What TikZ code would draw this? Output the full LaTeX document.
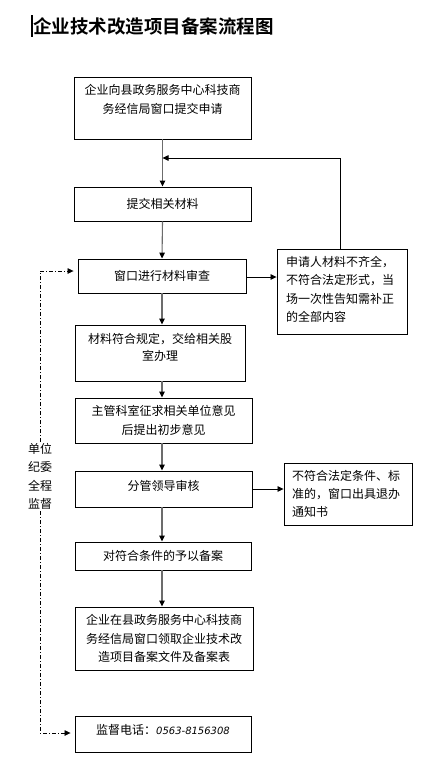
\documentclass[tikz,border=0pt]{standalone}
\usepackage{fontspec}
\newfontfamily\cjk{Noto Sans CJK SC}
\newfontfamily\cjkb{Noto Sans CJK SC Bold}
\setmainfont{Noto Sans CJK SC}
\usetikzlibrary{arrows.meta}
\begin{document}
\begin{tikzpicture}[x=1pt,y=-1pt,
  box/.style={draw=black,line width=0.9pt,inner sep=0pt,font=\cjk\fontsize{12}{18.5}\selectfont},
  flow/.style={draw=gray!85!black,line width=1.1pt,-{Triangle[length=6pt,width=5.5pt,color=black]}},
  side/.style={draw=black,line width=0.8pt,-{Triangle[length=6pt,width=5.5pt]}},
  super/.style={draw=black,line width=0.7pt,dash pattern=on 4pt off 2pt on 1pt off 2pt,-{Triangle[length=6pt,width=5.5pt]},shorten >=4pt}]
\useasboundingbox (0,0) rectangle (439,774);
\fill[white] (0,0) rectangle (439,774);
% title
\node[anchor=west,inner sep=0pt,font=\cjkb\fontsize{18.5}{20}\selectfont] (title) at (33,26) {企业技术改造项目备案流程图};
\draw[line width=1.2pt] (32,15) -- (32,37);
% main boxes
\node[box,minimum width=177pt,minimum height=62pt] (b1) at (162.5,108) {};
\node[font=\cjk\fontsize{12}{19}\selectfont,align=center,anchor=north,inner sep=0pt] (t1) at (162.5,84) {企业向县政务服务中心科技商\\务经信局窗口提交申请};
\node[box,minimum width=177pt,minimum height=34pt] (b2) at (162.5,204) {提交相关材料};
\node[box,minimum width=168pt,minimum height=34pt] (b3) at (162,276) {窗口进行材料审查};
\node[box,minimum width=170pt,minimum height=56pt] (b4) at (160,353) {};
\node[font=\cjk\fontsize{12}{17}\selectfont,align=center,anchor=north,inner sep=0pt] (t4) at (160,333) {材料符合规定，交给相关股\\室办理};
\node[box,minimum width=177pt,minimum height=45pt,align=center] (b5) at (163.5,420.5) {主管科室征求相关单位意见\\后提出初步意见};
\node[box,minimum width=177pt,minimum height=36pt] (b6) at (163.5,489) {};
\node[font=\cjk\fontsize{12}{18}\selectfont,inner sep=0pt] (t6) at (163.5,486) {分管领导审核};
\node[box,minimum width=176pt,minimum height=28pt] (b7) at (163,556) {对符合条件的予以备案};
\node[box,minimum width=178pt,minimum height=63pt,align=center] (b8) at (164,638.5) {企业在县政务服务中心科技商\\务经信局窗口领取企业技术改\\造项目备案文件及备案表};
\node[box,minimum width=176pt,minimum height=36pt] (b9) at (163,734) {};
\node[font=\cjk\fontsize{12}{18}\selectfont,inner sep=0pt] (t9) at (163,730) {监督电话：{\fontspec{DejaVu Sans}\itshape\fontsize{10}{12}\selectfont 0563-8156308}};
% right boxes
\node[box,minimum width=130pt,minimum height=85pt] (r1) at (342,291.5) {};
\node[font=\cjk\fontsize{12}{18.5}\selectfont,align=left,anchor=north west,inner sep=0pt] (tr1) at (286,256) {申请人材料不齐全，\\不符合法定形式，当\\场一次性告知需补正\\的全部内容};
\node[box,minimum width=128pt,minimum height=62pt] (r2) at (348,494) {};
\node[font=\cjk\fontsize{12}{18}\selectfont,align=left,anchor=north west,inner sep=0pt] (tr2) at (292,470) {不符合法定条件、标\\准的，窗口出具退办\\通知书};
% supervision label
\node[font=\cjk\fontsize{12}{18.5}\selectfont,align=center,fill=white,inner sep=1pt] (sup) at (40,476.5) {单位\\纪委\\全程\\监督};
\coordinate (st) at (40,271);
\coordinate (sb) at (40,733);
% connectors
\draw[flow] (b1.south) -- (b2.north);
\draw[flow] (b2.south) -- (b3.north);
\draw[flow] (b3.south) -- (b3.south |- b4.north);
\draw[flow] (b3.south |- b4.south) -- (b3.south |- b5.north);
\draw[flow] (b3.south |- b5.south) -- (b3.south |- b6.north);
\draw[flow] (b3.south |- b6.south) -- (b3.south |- b7.north);
\draw[flow] (b3.south |- b7.south) -- (b3.south |- b8.north);
\draw[side] (b3.east |- 0,277) -- (r1.west |- 0,277);
\draw[side] (b6.east |- 0,489) -- (r2.west |- 0,489);
\draw[side] (r1.north -| 340,0) -- (340,158) -- (b1.south |- 0,158);
\draw[super] (sup.north) -- (st) -- (b3.west |- st);
\draw[super] (sup.south) -- (sb) -- (b9.west |- sb);
\end{tikzpicture}
\end{document}
